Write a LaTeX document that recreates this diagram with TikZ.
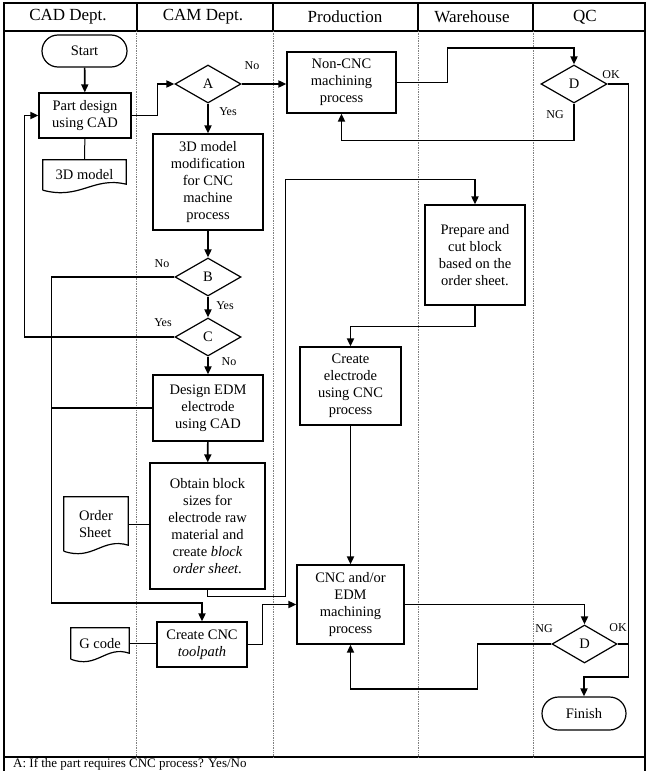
\documentclass[tikz,border=0pt]{standalone}
\usepackage{fontspec}
\setmainfont{Liberation Serif}
\usetikzlibrary{
	shapes.geometric,
	shapes.misc,
	arrows.meta,
	calc
}

\tikzset{
	txt/.style={font=\fontsize{14.5}{17}\selectfont, align=center, inner sep=0pt},
	proc/.style={txt, draw, rectangle, line width=1.2pt},
	decision/.style={txt, draw, diamond, line width=1.2pt, minimum width=66pt, minimum height=38pt},
	term/.style={txt, draw, rounded rectangle, line width=1.2pt},
	docu/.style={txt, rectangle},
	lbl/.style={font=\fontsize{12}{14}\selectfont, inner sep=0pt},
	head/.style={font=\fontsize{17}{20}\selectfont, inner sep=0pt},
	flow/.style={line width=1.7pt, -{Triangle[length=8pt,width=7pt]}},
	wire/.style={line width=1.7pt},
	link/.style={line width=1pt},
	lane/.style={gray, densely dotted, line width=0.7pt}
}

\begin{document}
\begin{tikzpicture}[x=1pt, y=-1pt]
	\useasboundingbox (0,0) rectangle (648,771);

	% frame and swim lanes
	\draw[line width=1.2pt] (4,3) rectangle (645,800);
	\draw[line width=1.2pt] (4,31) -- (645,31);
	\draw[line width=1.2pt] (4,757) -- (645,757);
	\foreach \x in {137,273,418,533}
		\draw[line width=1.2pt] (\x,3) -- (\x,31);
	\foreach \x in {136,273,418,533}
		\draw[lane] (\x,31) -- (\x,757);

	\node[head] (hcad)  at (68,17)  {CAD Dept.};
	\node[head] (hcam)  at (203,17) {CAM Dept.};
	\node[head] (hprod) at (345,17) {Production};
	\node[head] (hware) at (472,17) {Warehouse};
	\node[head] (hqc)   at (585,17) {QC};

	% CAD / CAM lanes
	\node[term, minimum width=85pt, minimum height=32pt]  (start)    at (84.5,51)   {Start};
	\node[proc, minimum width=92pt, minimum height=45pt]  (cad)      at (85,115.5)  {Part design\\using CAD};
	\node[docu, minimum width=83pt, minimum height=30pt]  (model)    at (84.5,175)  {3D model};
	\node[decision]                                       (A)        at (208,84)    {A};
	\node[proc, minimum width=110pt, minimum height=96pt] (mod)      at (208,182)   {3D model\\modification\\for CNC\\machine\\process};
	\node[decision]                                       (B)        at (208,277)   {B};
	\node[decision]                                       (C)        at (208,337)   {C};
	\node[proc, minimum width=110pt, minimum height=66pt] (edm)      at (208,408)   {Design EDM\\electrode\\using CAD};
	\node[proc, minimum width=115pt, minimum height=126pt] (obtain)  at (207.5,526) {Obtain block\\sizes for\\electrode raw\\material and\\create \textit{block}\\\textit{order sheet}.};
	\node[docu, minimum width=64pt, minimum height=54pt, align=left] (order) at (96,524) {Order\\Sheet};
	\node[proc, minimum width=90pt, minimum height=45pt]  (toolpath) at (202,644.5) {Create CNC\\\textit{toolpath}};
	\node[docu, minimum width=58pt, minimum height=31pt]  (gcode)    at (100,643.5) {G code};

	% Production / Warehouse / QC lanes
	\node[proc, minimum width=109pt, minimum height=61pt]  (noncnc)    at (341.5,82.5) {Non-CNC\\machining\\process};
	\node[proc, minimum width=100pt, minimum height=100pt] (prepare)   at (475,255)    {Prepare and\\cut block\\based on the\\order sheet.};
	\node[proc, minimum width=101pt, minimum height=78pt]  (electrode) at (350.5,386)  {Create\\electrode\\using CNC\\process};
	\node[proc, minimum width=107pt, minimum height=79pt]  (machining) at (350.5,604.5) {CNC and/or\\EDM\\machining\\process};
	\node[decision]                                        (D1)        at (574,84)     {D};
	\node[decision, minimum width=65pt]                    (D2)        at (584.5,644)  {D};
	\node[term, minimum width=84pt, minimum height=33pt]   (finish)    at (584,713.5)  {Finish};

	% document outlines
	\foreach \d in {model,order,gcode}
		\draw[line width=1.2pt] (\d.south west) -- (\d.north west) -- (\d.north east) -- ([yshift=6pt]\d.south east)
			.. controls ($(\d.south east)!0.4!(\d.south west)+(0,-14)$) and ($(\d.south west)!0.45!(\d.south east)+(0,10)$) .. (\d.south west);

	% branch labels
	\node[lbl] (noA)  at (252,66)  {No};
	\node[lbl] (yesA) at (228,112) {Yes};
	\node[lbl] (noB)  at (162,264) {No};
	\node[lbl] (yesB) at (225,306) {Yes};
	\node[lbl] (yesC) at (163,323) {Yes};
	\node[lbl] (noC)  at (229,362) {No};
	\node[lbl] (okA)  at (611,75)  {OK};
	\node[lbl] (ngA)  at (555,115) {NG};
	\node[lbl] (ngB)  at (544,629) {NG};
	\node[lbl] (okB)  at (618,628) {OK};

	% connectors
	\draw[flow] (start) -- (cad);
	\draw[link] (cad) -- (model);
	\draw[flow] (cad.east) -- ++(26,0) |- (A.west);
	\draw[flow] (A.east) -- (A.east -| noncnc.west);
	\draw[flow] (A) -- (mod);
	\draw[flow] (mod) -- (B);
	\draw[flow] (B) -- (C);
	\draw[flow] (C) -- (edm);
	\draw[flow] (edm) -- (obtain);
	\draw[flow] (C.west) -- ++(-150,0) |- (cad.west);
	\draw[flow] (B.west) -- ++(-123,0) -- ++(0,326) -| (toolpath.north);
	\draw[wire] (edm.west) -- ++(-101,0);
	\draw[link] (order.east) -- (obtain.west |- order.east);
	\draw[link] (gcode.east) -- (toolpath.west |- gcode.east);
	\draw[flow] (obtain.south) -- ++(0,7) -- ++(78,0) -- ++(0,-417) -| (prepare.north);
	\draw[flow] (prepare.south) -- ++(0,21) -| (electrode.north);
	\draw[flow] (electrode) -- (machining);
	\draw[flow] (toolpath.east) -- ++(15,0) |- (machining.west);
	\draw[flow] (noncnc.east) -- ++(51,0) -- ++(0,-34.5) -| (D1.north);
	\draw[flow] (D1.south) -- ++(0,37) -| (noncnc.south);
	\draw[flow] (machining.east) -| (D2.north);
	\draw[flow] (D2.west) -- ++(-74,0) -- ++(0,45) -| (machining.south);
	\draw[wire] (D2.east) -- ++(11,0);
	\draw[flow] (D1.east) -- ++(21,0) -- ++(0,593) -| (finish.north);

	\node[anchor=base west, font=\fontsize{13}{15}\selectfont, inner sep=0pt] (note) at (13,767.5) {A: If the part requires CNC process? Yes/No};
\end{tikzpicture}
\end{document}
